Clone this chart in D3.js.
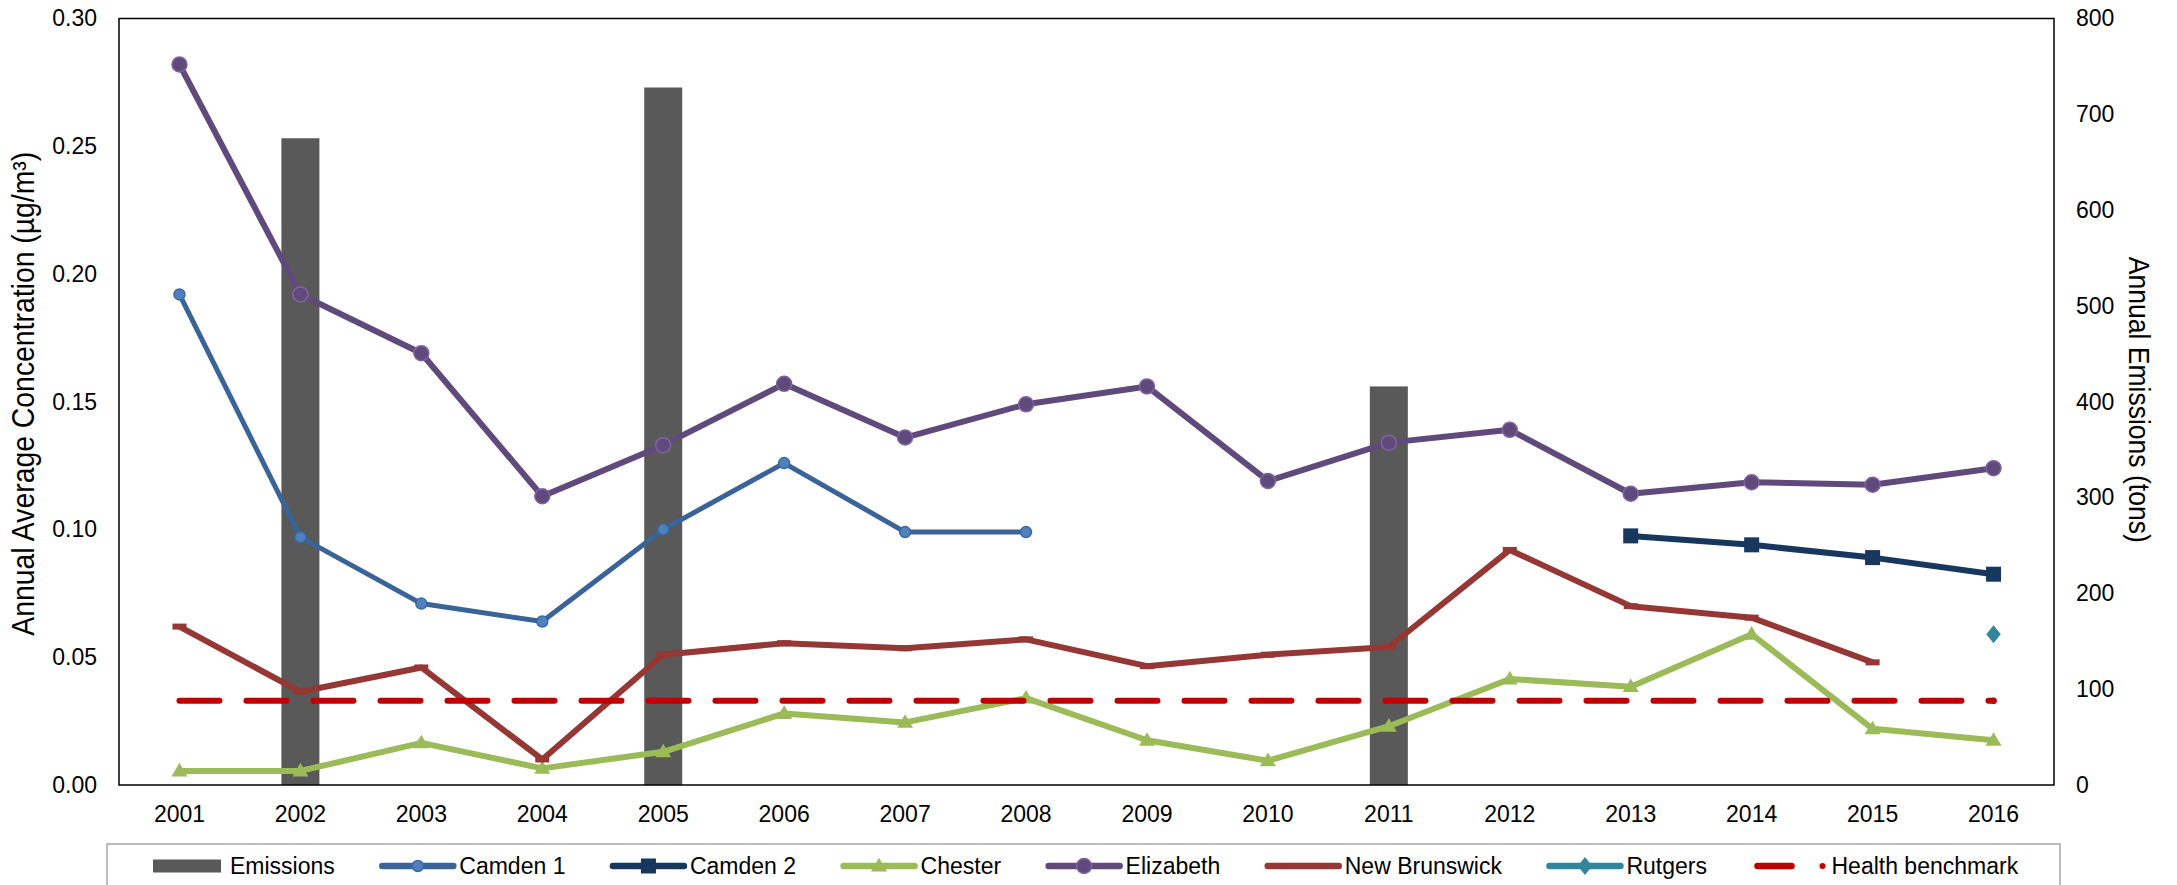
<!DOCTYPE html>
<html>
<head>
<meta charset="utf-8">
<script src="https://cdn.jsdelivr.net/npm/d3@7"></script>
<style>
  html, body { margin: 0; padding: 0; background: #fff; }
  svg { display: block; font-family: "Liberation Sans", Arial, sans-serif; }
</style>
</head>
<body>
<svg id="chart" width="2177" height="885"></svg>
<script>
// ---------------- data ----------------
const years = ["2001","2002","2003","2004","2005","2006","2007","2008","2009","2010","2011","2012","2013","2014","2015","2016"];
const emissions    = [null, 675, null, null, 728, null, null, null, null, null, 416, null, null, null, null, null];
const camden1      = [0.192, 0.097, 0.071, 0.064, 0.100, 0.126, 0.099, 0.099, null, null, null, null, null, null, null, null];
const camden2      = [null, null, null, null, null, null, null, null, null, null, null, null, 0.0975, 0.094, 0.089, 0.0825];
const chester      = [0.0055, 0.0055, 0.0165, 0.0065, 0.013, 0.028, 0.0245, 0.034, 0.0175, 0.0095, 0.023, 0.0415, 0.0385, 0.059, 0.022, 0.0175];
const elizabeth    = [0.282, 0.192, 0.169, 0.113, 0.133, 0.157, 0.136, 0.149, 0.156, 0.119, 0.134, 0.139, 0.114, 0.1185, 0.1175, 0.124];
const newBrunswick = [0.062, 0.0365, 0.046, 0.010, 0.051, 0.0555, 0.0535, 0.057, 0.0465, 0.051, 0.054, 0.092, 0.070, 0.0655, 0.048, null];
const rutgers      = [null, null, null, null, null, null, null, null, null, null, null, null, null, null, null, 0.059];
const benchmark    = [0.033, 0.033, 0.033, 0.033, 0.033, 0.033, 0.033, 0.033, 0.033, 0.033, 0.033, 0.033, 0.033, 0.033, 0.033, 0.033];
const leftTicks  = [0, 0.05, 0.10, 0.15, 0.20, 0.25, 0.30];
const rightTicks = [0, 100, 200, 300, 400, 500, 600, 700, 800];
const leftTitle  = "Annual Average Concentration (µg/m³)";
const rightTitle = "Annual Emissions (tons)";

// ---------------- layout ----------------
const svg = d3.select("#chart");
const L = 119, R = 2054, T = 18.5, B = 785;
const FONT = 23;

const x  = d3.scaleBand().domain(years).range([L, R]);
const yL = d3.scaleLinear().domain([0, 0.30]).range([B, T]);
const yR = d3.scaleLinear().domain([0, 800]).range([B, T]);
const cx = d => x(d) + x.bandwidth() / 2;

// bars
const barW = 38;
svg.append("g").selectAll("rect")
  .data(years.map((y, i) => ({ y, v: emissions[i] })).filter(d => d.v != null))
  .join("rect")
  .attr("x", d => cx(d.y) - barW / 2)
  .attr("width", barW)
  .attr("y", d => yR(d.v))
  .attr("height", d => yR(0) - yR(d.v))
  .attr("fill", "#595959");

// series definitions
const series = [
  { name: "Camden 1", values: camden1, color: "#3a6497", width: 5, marker: "circle", r: 5.5, mfill: "#4f81bd", mstroke: "#3a6aa5" },
  { name: "Camden 2", values: camden2, color: "#17375e", width: 6, marker: "square", size: 15, mfill: "#17375e", mstroke: "#17375e" },
  { name: "Chester", values: chester, color: "#9bbb59", width: 6, marker: "triangle", size: 16, mfill: "#9bbb59", mstroke: "#9bbb59" },
  { name: "Elizabeth", values: elizabeth, color: "#604a7b", width: 6, marker: "circle", r: 7.5, mfill: "#604a7b", mstroke: "#8064a2" },
  { name: "New Brunswick", values: newBrunswick, color: "#953735", width: 6, marker: "dash", size: 14, mfill: "#953735", mstroke: "#953735" },
  { name: "Rutgers", values: rutgers, color: "#31859c", width: 6, marker: "diamond", size: 18, mfill: "#31859c", mstroke: "#31859c" },
];

const line = d3.line()
  .defined(d => d.v != null)
  .x(d => cx(d.y))
  .y(d => yL(d.v));

function drawMarker(g, type, px, py, s, fill, stroke) {
  if (type === "circle") {
    g.append("circle").attr("cx", px).attr("cy", py).attr("r", s.r)
      .attr("fill", fill).attr("stroke", stroke).attr("stroke-width", 1.5);
  } else if (type === "square") {
    g.append("rect").attr("x", px - s.size / 2).attr("y", py - s.size / 2)
      .attr("width", s.size).attr("height", s.size).attr("fill", fill);
  } else if (type === "triangle") {
    const h = s.size * 0.85, w = s.size;
    g.append("path").attr("d", `M${px},${py - h * 0.6}L${px + w / 2},${py + h * 0.4}L${px - w / 2},${py + h * 0.4}Z`).attr("fill", fill);
  } else if (type === "dash") {
    g.append("rect").attr("x", px - s.size / 2).attr("y", py - 3)
      .attr("width", s.size).attr("height", 6).attr("fill", fill);
  } else if (type === "diamond") {
    const w = s.size * 0.8, h = s.size;
    g.append("path").attr("d", `M${px},${py - h / 2}L${px + w / 2},${py}L${px},${py + h / 2}L${px - w / 2},${py}Z`).attr("fill", fill);
  }
}

const gLines = svg.append("g");
series.forEach(s => {
  const pts = years.map((y, i) => ({ y, v: s.values[i] }));
  gLines.append("path").datum(pts)
    .attr("d", line)
    .attr("fill", "none")
    .attr("stroke", s.color)
    .attr("stroke-width", s.width)
    .attr("stroke-linejoin", "round");
  const gm = gLines.append("g");
  pts.filter(d => d.v != null).forEach(d => drawMarker(gm, s.marker, cx(d.y), yL(d.v), s, s.mfill, s.mstroke));
});

// health benchmark
const benchPts = years.map((y, i) => ({ y, v: benchmark[i] }));
gLines.append("path").datum(benchPts)
  .attr("d", line)
  .attr("fill", "none")
  .attr("stroke", "#c00000")
  .attr("stroke-width", 6)
  .attr("stroke-linecap", "round")
  .attr("stroke-dasharray", "40,27");
gLines.append("circle")
  .attr("cx", cx(years[years.length - 1]))
  .attr("cy", yL(benchmark[benchmark.length - 1]))
  .attr("r", 3.2).attr("fill", "#c00000");

// frame
svg.append("rect").attr("x", L).attr("y", T).attr("width", R - L).attr("height", B - T)
  .attr("fill", "none").attr("stroke", "#000").attr("stroke-width", 1.5);

// axes
const axL = svg.append("g").attr("transform", `translate(${L},0)`)
  .call(d3.axisLeft(yL).tickValues(leftTicks).tickSize(0).tickPadding(22).tickFormat(d3.format(".2f")));
const axR = svg.append("g").attr("transform", `translate(${R},0)`)
  .call(d3.axisRight(yR).tickValues(rightTicks).tickSize(0).tickPadding(22).tickFormat(d3.format("d")));
const axB = svg.append("g").attr("transform", `translate(0,${B})`)
  .call(d3.axisBottom(x).tickSize(0).tickPadding(21));
[axL, axR, axB].forEach(a => {
  a.select(".domain").remove();
  a.selectAll("text").attr("font-size", FONT).attr("fill", "#000")
    .attr("font-family", "'Liberation Sans', Arial, sans-serif");
});

// axis titles (condensed, like Arial Narrow)
const midY = (T + B) / 2;
svg.append("text")
  .attr("transform", `translate(33.5,${midY - 8}) rotate(-90)`)
  .attr("text-anchor", "middle")
  .attr("font-size", 31)
  .attr("textLength", 484)
  .attr("lengthAdjust", "spacingAndGlyphs")
  .attr("fill", "#000")
  .text(leftTitle);
svg.append("text")
  .attr("transform", `translate(2129,${midY - 2}) rotate(90)`)
  .attr("text-anchor", "middle")
  .attr("font-size", 30)
  .attr("textLength", 286)
  .attr("lengthAdjust", "spacingAndGlyphs")
  .attr("fill", "#000")
  .text(rightTitle);

// legend
const legY = 844;
svg.append("rect").attr("x", 107).attr("y", legY).attr("width", 1953).attr("height", 60)
  .attr("fill", "#fff").attr("stroke", "#a6a6a6").attr("stroke-width", 1.5);

const legItems = [{ name: "Emissions", type: "bar" }]
  .concat(series.map(s => ({ name: s.name, type: "line", s })))
  .concat([{ name: "Health benchmark", type: "bench" }]);

const lg = svg.append("g");
const ly = 866;
let lx = 153;
legItems.forEach(it => {
  if (it.type === "bar") {
    lg.append("rect").attr("x", lx).attr("y", ly - 6.5).attr("width", 68).attr("height", 13).attr("fill", "#595959");
  } else if (it.type === "line") {
    const s = it.s;
    lg.append("line").attr("x1", lx).attr("x2", lx + 71).attr("y1", ly).attr("y2", ly)
      .attr("stroke", s.color).attr("stroke-width", 6.5).attr("stroke-linecap", "round");
    drawMarker(lg, s.marker, lx + 35.5, ly, s, s.mfill, s.mstroke);
  } else {
    lg.append("line").attr("x1", lx + 3).attr("x2", lx + 37).attr("y1", ly).attr("y2", ly)
      .attr("stroke", "#c00000").attr("stroke-width", 6.5).attr("stroke-linecap", "round");
    lg.append("circle").attr("cx", lx + 68).attr("cy", ly).attr("r", 3).attr("fill", "#c00000");
  }
  const t = lg.append("text").attr("x", lx + 77).attr("y", ly).attr("dy", "0.35em")
    .attr("font-size", FONT).attr("fill", "#000").text(it.name);
  lx = lx + 77 + t.node().getComputedTextLength() + 47.5;
});
</script>
</body>
</html>
